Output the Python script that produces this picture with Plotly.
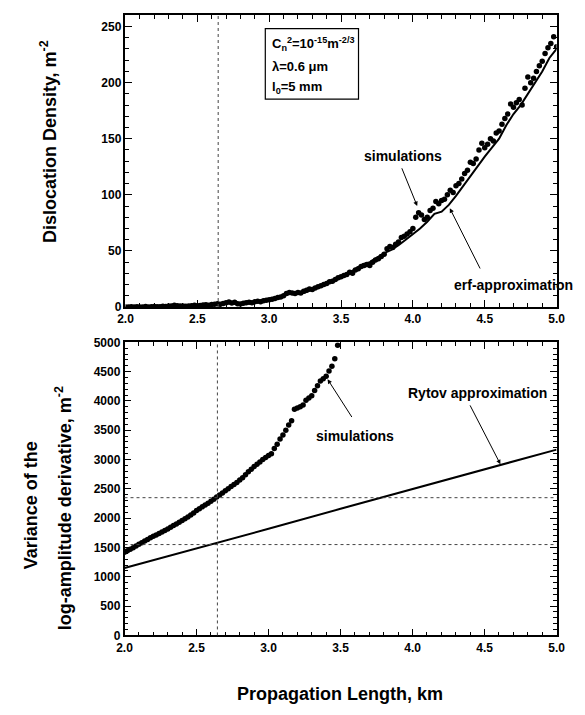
import plotly.graph_objects as go

# ---------------- data ----------------
# Top panel: simulations (dots), step 0.02 km
top_sim_x = [round(2.0 + 0.02 * i, 2) for i in range(151)]
top_sim_y = [
    0, 0, 0.2, 0, 0.3, 0, 0.1, 0.4, 0, 0.2, 0.5, 0.3, 0.2, 0.6, 0.4, 0.8, 1, 1.5, 1.2, 0.8, 1, 0.6, 0.9, 1.2, 1.5, 1.1,
    1.3, 1.8, 2, 1.6, 2.2, 2.5, 3, 2.4, 3.2, 3.8, 4.5, 3.6, 4.2, 3, 2.6, 3.4, 3.9, 4.3, 3.8, 4.6, 5.2, 4.7, 5.5, 6, 6.5,
    7, 7.5, 8.5, 9, 10, 12, 13, 12.5, 12, 13, 12.5, 14, 15, 16, 15.5, 17, 18, 19, 20, 21, 22.5, 23, 24.5, 26, 27,
    28, 29, 31, 30, 33, 34, 36, 37, 38, 37, 40, 42, 43, 45, 47, 52, 54, 53, 56, 58, 62, 63, 65, 67, 70,
    80, 84, 82, 78, 80, 86, 88, 94, 92, 95, 96, 100, 104, 102, 108, 110, 114, 119, 122, 129, 128, 132, 140, 146, 142,
    145, 150, 148, 155, 157, 163, 168, 172, 181, 178, 182, 185, 180, 195, 205, 200, 204, 210, 215, 219, 226, 231, 235, 241, 232,
]

# Top panel: erf-approximation (line), step 0.05 km
erf_x = [round(2.0 + 0.05 * i, 2) for i in range(61)]
erf_y = [
    0, 0, 0, 0, 0, 0.2, 0.3, 0.6, 1, 0.8, 1, 1.5, 2, 2.5, 3.5, 3, 2.5, 3.5, 4.5, 5,
    6, 7.5, 10, 12, 11.5, 13, 15.5, 18, 20, 23, 26, 30, 34, 38, 40, 44, 48, 51, 55, 60,
    65, 70, 76, 83, 85, 91, 99, 108, 116, 126, 134, 142, 150, 162, 172, 180, 190, 200, 210, 222, 230,
]

# Bottom panel: simulations (dots), step 0.02 km
bot_sim_x = [round(2.0 + 0.02 * i, 2) for i in range(75)]
bot_sim_y = [
    1420, 1445, 1470, 1495, 1525, 1555, 1580, 1610, 1635, 1665, 1690, 1715, 1740, 1765, 1790, 1815, 1845, 1875, 1900, 1930,
    1960, 1990, 2020, 2055, 2090, 2130, 2160, 2195, 2225, 2255, 2290, 2325, 2360, 2395, 2430, 2470, 2500, 2540, 2575, 2610,
    2650, 2690, 2740, 2790, 2835, 2880, 2920, 2960, 3000, 3035, 3070, 3100, 3190, 3260, 3350, 3420, 3500, 3590, 3660, 3860,
    3880, 3900, 3930, 4010, 4050, 4090, 4180, 4260, 4340, 4380, 4420, 4510, 4590, 4720, 4950,
]

# Bottom panel: Rytov approximation (line)
rytov_x = [2.0, 2.5, 3.0, 3.5, 4.0, 4.5, 5.0]
rytov_y = [1150, 1480, 1820, 2160, 2500, 2830, 3170]

# reference (dotted) lines
vline_x = 2.645
hline_vals = [2350, 1550]

x_ticks = [2.0, 2.5, 3.0, 3.5, 4.0, 4.5, 5.0]
x_tick_text = ["2.0", "2.5", "3.0", "3.5", "4.0", "4.5", "5.0"]

# ---------------- figure ----------------
W, H = 585, 715
FONT = "Liberation Sans"

def px_x(p):
    return p / W

def px_y(p):
    return 1 - p / H

fig = go.Figure()

fig.add_trace(go.Scatter(x=top_sim_x, y=top_sim_y, mode="markers",
                         marker=dict(color="black", size=5.5), xaxis="x", yaxis="y", showlegend=False))
fig.add_trace(go.Scatter(x=erf_x, y=erf_y, mode="lines",
                         line=dict(color="black", width=2), xaxis="x", yaxis="y", showlegend=False))
fig.add_trace(go.Scatter(x=bot_sim_x, y=bot_sim_y, mode="markers",
                         marker=dict(color="black", size=5.5), xaxis="x2", yaxis="y2", showlegend=False))
fig.add_trace(go.Scatter(x=rytov_x, y=rytov_y, mode="lines",
                         line=dict(color="black", width=2), xaxis="x2", yaxis="y2", showlegend=False))

tickfont = dict(family=FONT, size=12, color="black", weight="bold")
common_x = dict(range=[2.0, 5.0], tickvals=x_ticks, ticktext=x_tick_text, ticks="inside", ticklen=7,
                tickwidth=1.2, tickcolor="black", showline=True, linecolor="black", linewidth=1.5,
                mirror="ticks", showgrid=False, zeroline=False, tickfont=tickfont,
                minor=dict(dtick=0.1, ticks="inside", ticklen=4, tickwidth=1, tickcolor="black", showgrid=False))
common_y = dict(ticks="inside", ticklen=7, tickwidth=1.2, tickcolor="black", showline=True,
                linecolor="black", linewidth=1.5, mirror="ticks", showgrid=False, zeroline=False,
                tickfont=tickfont)

fig.update_layout(
    width=W, height=H, margin=dict(l=0, r=0, t=0, b=0),
    paper_bgcolor="white", plot_bgcolor="white",
    xaxis=dict(domain=[px_x(121), px_x(565)], anchor="y", **common_x),
    yaxis=dict(domain=[px_y(306), px_y(8.5)], anchor="x", range=[0, 260], dtick=50,
               minor=dict(dtick=10, ticks="inside", ticklen=4, tickwidth=1, tickcolor="black", showgrid=False),
               **common_y),
    xaxis2=dict(domain=[px_x(120), px_x(565)], anchor="y2", **common_x),
    yaxis2=dict(domain=[px_y(641), px_y(342)], anchor="x2", range=[0, 5000], dtick=500,
                minor=dict(dtick=100, ticks="inside", ticklen=4, tickwidth=1, tickcolor="black", showgrid=False),
                **common_y),
)

# dotted reference lines
dot_line = dict(color="#444444", width=1, dash="dot")
fig.add_shape(type="line", xref="x", yref="y domain", x0=vline_x, x1=vline_x, y0=0, y1=1, line=dot_line)
fig.add_shape(type="line", xref="x2", yref="y2 domain", x0=vline_x, x1=vline_x, y0=0, y1=1, line=dot_line)
for hv in hline_vals:
    fig.add_shape(type="line", xref="x2 domain", yref="y2", x0=0, x1=1, y0=hv, y1=hv, line=dot_line)

# parameter box
fig.add_shape(type="rect", xref="paper", yref="paper", x0=px_x(265), x1=px_x(361), y0=px_y(94), y1=px_y(22),
              line=dict(color="black", width=1.2), fillcolor="white")
box_font = dict(family=FONT, size=13, color="black", weight="bold")
box_lines = [
    ("C<sub>n</sub><sup>2</sup>=10<sup>-15</sup>m<sup>-2/3</sup>", 38),
    ("λ=0.6 μm", 61),
    ("l<sub>0</sub>=5 mm", 82),
]
for txt, yp in box_lines:
    fig.add_annotation(text=txt, xref="paper", yref="paper", x=px_x(270), y=px_y(yp),
                       xanchor="left", yanchor="middle", showarrow=False, font=box_font)

# axis titles
title_font = dict(family=FONT, size=18, color="black", weight="bold")
fig.add_annotation(text="Dislocation Density, m<sup>-2</sup>", xref="paper", yref="paper",
                   x=px_x(42), y=px_y(137), textangle=-90, showarrow=False, font=title_font,
                   xanchor="center", yanchor="middle")
fig.add_annotation(text="Variance of the", xref="paper", yref="paper",
                   x=px_x(24), y=px_y(508), textangle=-90, showarrow=False, font=title_font,
                   xanchor="center", yanchor="middle")
fig.add_annotation(text="log-amplitude derivative, m<sup>-2</sup>", xref="paper", yref="paper",
                   x=px_x(58), y=px_y(511), textangle=-90, showarrow=False, font=title_font,
                   xanchor="center", yanchor="middle")
fig.add_annotation(text="Propagation Length, km", xref="paper", yref="paper",
                   x=px_x(342), y=px_y(701), showarrow=False, font=title_font,
                   xanchor="center", yanchor="middle")

# labels
lab_font = dict(family=FONT, size=14, color="black", weight="bold")
for txt, xp, yp in [("simulations", 407, 152), ("erf-approximation", 521, 284),
                    ("simulations", 357, 438), ("Rytov approximation", 484, 394)]:
    fig.add_annotation(text=txt, xref="paper", yref="paper", x=px_x(xp), y=px_y(yp),
                       xanchor="center", yanchor="middle", showarrow=False, font=lab_font)

# arrows (tail -> tip, data coordinates)
arrow_style = dict(showarrow=True, arrowhead=2, arrowsize=0.9, arrowwidth=1, arrowcolor="black", text="")
fig.add_annotation(x=4.03, y=90, ax=3.919, ay=125, xref="x", yref="y", axref="x", ayref="y", **arrow_style)
fig.add_annotation(x=4.257, y=88, ax=4.473, ay=33, xref="x", yref="y", axref="x", ayref="y", **arrow_style)
fig.add_annotation(x=3.41, y=4370, ax=3.585, ay=3700, xref="x2", yref="y2", axref="x2", ayref="y2", **arrow_style)
fig.add_annotation(x=4.61, y=2920, ax=4.394, ay=3950, xref="x2", yref="y2", axref="x2", ayref="y2", **arrow_style)

fig.write_html("out.html")
